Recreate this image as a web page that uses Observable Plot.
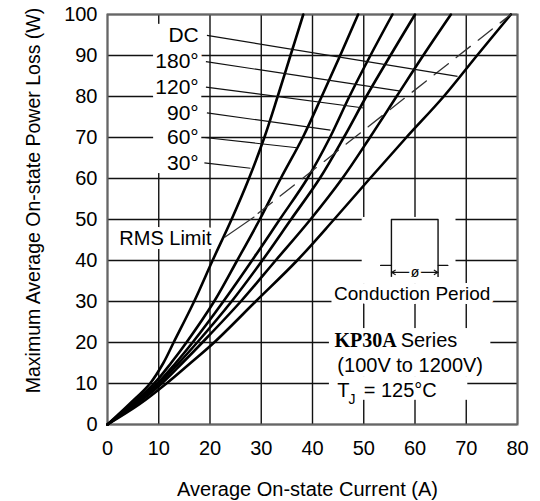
<!DOCTYPE html>
<html><head><meta charset="utf-8">
<script src="https://cdn.jsdelivr.net/npm/d3@7"></script>
<script src="https://cdn.jsdelivr.net/npm/@observablehq/plot@0.6"></script>
<style>
html,body{margin:0;padding:0;background:#fff;}
svg text{paint-order:stroke;stroke-linejoin:round;}
</style>
</head><body><div id="chart"></div>
<script>
// ---- data ----
const xTicks = [0,10,20,30,40,50,60,70,80];
const yTicks = [0,10,20,30,40,50,60,70,80,90,100];
const powerW = [0,5,10,15,20,30,40,50,60,70,80,90,100];
const cur30  = [0,4.3,8.3,10.9,12.9,16.9,20.5,24.2,27.6,30.6,33.2,35.7,38.2];
const cur60  = [0,4.8,9.1,12.4,15.4,20.8,25.3,29.7,33.8,38.1,41.8,45.4,48.9];
const cur90  = [0,5.1,9.7,13.3,16.6,22.6,28.2,33.6,39.0,43.4,47.2,51.3,55.6];
const cur120 = [0,5.4,10.1,13.9,17.5,24.2,30.2,35.8,41.4,46.1,50.5,55.2,60.0];
const cur180 = [0,5.7,10.6,14.6,18.5,26.0,32.8,39.6,45.8,51.2,56.4,61.6,67.0];
const curDC  = [0,6.3,11.5,16.2,20.8,28.9,37.0,44.2,51.2,58.3,65.6,72.1,78.7];
const seriesNames = ["30°","60°","90°","120°","180°","DC"];
const seriesCurrents = [cur30, cur60, cur90, cur120, cur180, curDC];

// RMS limit (dashed) and its leader
const rmsA = [29.4, 78.7];
const rmsW = [51.5, 100];
const rmsLeaderA = [22.8, 28.6];
const rmsLeaderW = [45.6, 50.6];
const rmsLabel = ["RMS Limit"];
const rmsLabelA = [2.3];
const rmsLabelW = [45.3];

// angle labels and leaders
const angleLabels = ["DC","180°","120°","90°","60°","30°"];
const angleLabelA = [17.8,17.8,17.8,17.8,17.8,17.8];
const angleLabelW = [94.9,88.5,82.3,76.0,70.0,63.8];
const leaderStartA = [19.4,19.2,19.2,19.4,18.9,18.9];
const leaderEndA = [68.3,57.2,50.0,43.5,37.0,27.9];
const leaderEndW = [84.9,81.3,77.2,71.8,67.5,62.5];

// conduction period sketch
const pulseA = [53.3,55.4,55.4,64.5,64.5,66.4];
const pulseW = [38.8,38.8,50,50,38.8,38.8];
const extA = [55.4,64.5];
const extTopW = 38.8, extBottomW = 36.0;
const dimW = 37.1, dimMidA = 60.0;
// blank (white) areas behind the label column, the sketch and the text block
const blankX1 = [9.0, 49.7, 43.8, 43.3, 43.3];
const blankX2 = [18.4, 68.0, 73.6, 74.8, 70.3];
const blankY1 = [61.2, 34.2, 29.5, 11.5, 5.9];
const blankY2 = [97.6, 50.5, 34.3, 23.4, 11.6];

// text block
const condLabel = ["Conduction Period"]; const condA = [44.2]; const condW = [31.9];
const seriesLabel = ["KP30A"]; const seriesLabelA = [44.3]; const seriesLabelW = [20.5];
const seriesWord = ["Series"]; const seriesWordA = [57.2];
const voltLabel = ["(100V to 1200V)"]; const voltA = [44.85]; const voltW = [14.4];
const tjT = ["T"]; const tjTA = [44.85]; const tjW = [8.3];
const tjSub = ["J"]; const tjSubA = [47.0]; const tjSubW = [6.1];
const tjRest = ["= 125°C"]; const tjRestA = [50.0];
const xTitle = ["Average On-state Current (A)"];
const yTitle = ["Maximum Average On-state Power Loss (W)"];

// ---- build tables ----
const curves = seriesNames.flatMap((s, i) => powerW.map((w, j) => ({series: s, A: seriesCurrents[i][j], W: w})));
const rmsLine = rmsA.map((a, i) => ({A: a, W: rmsW[i]}));
const rmsLeader = rmsLeaderA.map((a, i) => ({A: a, W: rmsLeaderW[i]}));
const angleRows = angleLabels.map((t, i) => ({t, A: angleLabelA[i], W: angleLabelW[i], A1: leaderStartA[i], A2: leaderEndA[i], W2: leaderEndW[i]}));
const pulse = pulseA.map((a, i) => ({A: a, W: pulseW[i]}));
const blanks = blankX1.map((x, i) => ({x1: x, x2: blankX2[i], y1: blankY1[i], y2: blankY2[i]}));
const exts = extA.map(a => ({A: a}));
const dims = extA.map(a => ({A1: dimMidA, A2: a}));

const sans = "'Liberation Sans', Arial, Helvetica, sans-serif";
const halo = {stroke: "white", strokeWidth: 8, fill: "black"};

const chart = Plot.plot({
  width: 540, height: 501,
  marginLeft: 107, marginRight: 23, marginTop: 14, marginBottom: 77,
  x: {domain: [0, 80]},
  y: {domain: [0, 100]},
  style: {fontFamily: sans, fontSize: "20px", color: "black", background: "white"},
  marks: [
    Plot.gridX(xTicks, {stroke: "#111", strokeOpacity: 1, strokeWidth: 1.4}),
    Plot.gridY(yTicks, {stroke: "#111", strokeOpacity: 1, strokeWidth: 1.4}),
    Plot.rect(blanks, {x1: "x1", x2: "x2", y1: "y1", y2: "y2", fill: "white"}),
    Plot.axisX(xTicks, {tickSize: 0, tickPadding: 16, fontSize: 20, label: null}),
    Plot.axisY(yTicks, {tickSize: 0, tickPadding: 10, fontSize: 20, label: null}),
    // text with white halos masking the grid
    Plot.text(angleRows, {x: "A", y: "W", text: "t", textAnchor: "end", fontSize: 21, ...halo}),
    Plot.text(rmsLabel, {x: rmsLabelA, y: rmsLabelW, text: d => d, textAnchor: "start", fontSize: 20, ...halo}),
    Plot.text(condLabel, {x: condA, y: condW, text: d => d, textAnchor: "start", fontSize: 19, ...halo}),
    Plot.text(seriesLabel, {x: seriesLabelA, y: seriesLabelW, text: d => d, textAnchor: "start", fontSize: 20, fontWeight: "bold", fontFamily: "'Liberation Serif', 'Times New Roman', serif", ...halo}),
    Plot.text(seriesWord, {x: seriesWordA, y: seriesLabelW, text: d => d, textAnchor: "start", fontSize: 20, ...halo}),
    Plot.text(voltLabel, {x: voltA, y: voltW, text: d => d, textAnchor: "start", fontSize: 20, ...halo}),
    Plot.text(tjT, {x: tjTA, y: tjW, text: d => d, textAnchor: "start", fontSize: 20, fill: "black"}),
    Plot.text(tjRest, {x: tjRestA, y: tjW, text: d => d, textAnchor: "start", fontSize: 20, fill: "black"}),
    Plot.text(tjSub, {x: tjSubA, y: tjSubW, text: d => d, textAnchor: "start", fontSize: 14, fill: "black"}),
    Plot.frame({stroke: "#666", strokeWidth: 2}),
    // conduction period sketch
    Plot.line(pulse, {x: "A", y: "W", stroke: "#111", strokeWidth: 1.4}),
    Plot.link(exts, {x1: "A", x2: "A", y1: () => extTopW, y2: () => extBottomW, stroke: "#111", strokeWidth: 1.4}),
    Plot.arrow(dims, {x1: "A1", x2: "A2", y1: () => dimW, y2: () => dimW, stroke: "#111", strokeWidth: 1.1, headLength: 6}),
    Plot.text(["ø"], {x: [dimMidA], y: [dimW], text: d => d, fontSize: 14, ...halo, strokeWidth: 5}),
    // curves
    Plot.line(curves, {x: "A", y: "W", z: "series", stroke: "black", strokeWidth: 2.6, curve: "catmull-rom"}),
    Plot.line(rmsLine, {x: "A", y: "W", stroke: "#333", strokeWidth: 1.3, strokeDasharray: "18,10"}),
    Plot.line(rmsLeader, {x: "A", y: "W", stroke: "#333", strokeWidth: 1.1}),
    Plot.link(angleRows, {x1: "A1", y1: "W", x2: "A2", y2: "W2", stroke: "#111", strokeWidth: 1.2}),
    // axis titles
    Plot.text(xTitle, {frameAnchor: "bottom", text: d => d, lineAnchor: "middle", dy: 65, dx: -5, fontSize: 20}),
    Plot.text(yTitle, {frameAnchor: "left", text: d => d, textAnchor: "middle", lineAnchor: "middle", rotate: -90, dx: -74, dy: -19, fontSize: 19.5})
  ]
});
document.getElementById("chart").append(chart);
</script>
</body></html>
